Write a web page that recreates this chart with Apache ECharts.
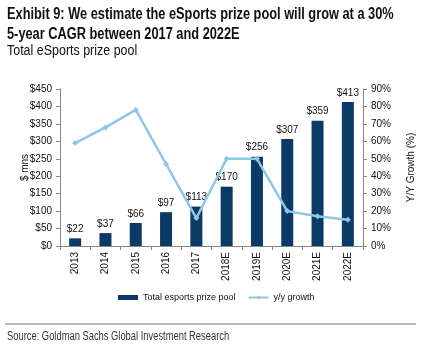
<!DOCTYPE html>
<html>
<head>
<meta charset="utf-8">
<script src="https://cdn.jsdelivr.net/npm/echarts@6/dist/echarts.min.js"></script>
<style>
html,body{margin:0;padding:0;background:#fff;}
#c{width:445px;height:356px;}
</style>
</head>
<body>
<div id="c"></div>
<script>
const categories = ['2013','2014','2015','2016','2017','2018E','2019E','2020E','2021E','2022E'];
const prizePool = [22, 37, 66, 97, 113, 170, 256, 307, 359, 413];
const growth = [59, 68, 78, 47, 16, 50, 50, 20, 17, 15];
const leftTicks = [0, 450, 50];
const rightTicks = [0, 90, 10];
const titleLines = ['Exhibit 9: We estimate the eSports prize pool will grow at a 30%', '5-year CAGR between 2017 and 2022E'];
const subtitle = 'Total eSports prize pool';
const source = 'Source: Goldman Sachs Global Investment Research';

const sans = "'Liberation Sans',Arial,sans-serif";
const fam = 'Liberation Sans';

const chart = echarts.init(document.getElementById('c'));
chart.setOption({
  animation: false,
  backgroundColor: '#fff',
  grid: { left: 60, right: 82, top: 89, bottom: 110, containLabel: false },
  legend: {
    left: 113, top: 288,
    itemGap: 12,
    itemWidth: 20, itemHeight: 5,
    textStyle: { fontFamily: sans, fontSize: 9, color: '#111' },
    data: [
      { name: 'Total esports prize pool', icon: 'rect' },
      { name: 'y/y growth' }
    ]
  },
  xAxis: {
    type: 'category',
    data: categories,
    axisLine: { lineStyle: { color: '#888', width: 1 } },
    axisTick: { show: true, alignWithLabel: false, length: 4, lineStyle: { color: '#888' } },
    axisLabel: { rotate: 90, fontFamily: sans, fontSize: 10, color: '#111', margin: 6 }
  },
  yAxis: [
    {
      type: 'value', min: leftTicks[0], max: leftTicks[1], interval: leftTicks[2],
      name: '$ mns', nameLocation: 'middle', nameGap: 30, nameRotate: 90, nameMoveOverlap: false,
      nameTextStyle: { fontFamily: sans, fontSize: 10, color: '#111' },
      axisLine: { show: true, lineStyle: { color: '#888' } },
      axisTick: { show: true, length: 4, lineStyle: { color: '#888' } },
      splitLine: { show: false },
      axisLabel: { fontFamily: sans, fontSize: 10, color: '#111', margin: 8, formatter: v => '$' + v }
    },
    {
      type: 'value', min: rightTicks[0], max: rightTicks[1], interval: rightTicks[2],
      position: 'right',
      name: 'Y/Y Growth (%)', nameLocation: 'middle', nameGap: 43, nameRotate: 90, nameMoveOverlap: false,
      nameTextStyle: { fontFamily: sans, fontSize: 10, color: '#111' },
      axisLine: { show: true, lineStyle: { color: '#888' } },
      axisTick: { show: true, length: 4, lineStyle: { color: '#888' } },
      splitLine: { show: false },
      axisLabel: { fontFamily: sans, fontSize: 10, color: '#111', margin: 8, formatter: v => v + '%' }
    }
  ],
  series: [
    {
      name: 'Total esports prize pool',
      type: 'bar',
      data: prizePool,
      yAxisIndex: 0,
      barWidth: 12,
      itemStyle: { color: '#0B3A66' },
      label: { show: true, position: 'top', distance: 4, fontFamily: sans, fontSize: 10, color: '#111', formatter: p => '$' + p.value },
      z: 2
    },
    {
      name: 'y/y growth',
      type: 'line',
      data: growth,
      yAxisIndex: 1,
      symbol: 'diamond',
      symbolSize: 6,
      lineStyle: { color: '#8EC7E4', width: 2.5 },
      itemStyle: { color: '#8EC7E4' },
      z: 3
    }
  ],
  graphic: [
    { type: 'text', x: 7, y: 7, scaleX: 0.8, style: { text: titleLines[0], fontFamily: fam, fontSize: 16, fontWeight: 'bold', fill: '#111', verticalAlign: 'top' } },
    { type: 'text', x: 7, y: 27, scaleX: 0.8, style: { text: titleLines[1], fontFamily: fam, fontSize: 16, fontWeight: 'bold', fill: '#111', verticalAlign: 'top' } },
    { type: 'text', x: 7, y: 44, scaleX: 0.89, style: { text: subtitle, fontFamily: fam, fontSize: 14, fill: '#111', verticalAlign: 'top' } },
    { type: 'line', shape: { x1: 5, y1: 324, x2: 416, y2: 324 }, style: { stroke: '#777', lineWidth: 1 } },
    { type: 'text', x: 7, y: 331, scaleX: 0.78, style: { text: source, fontFamily: fam, fontSize: 12, fill: '#333', verticalAlign: 'top' } }
  ]
});
</script>
</body>
</html>
